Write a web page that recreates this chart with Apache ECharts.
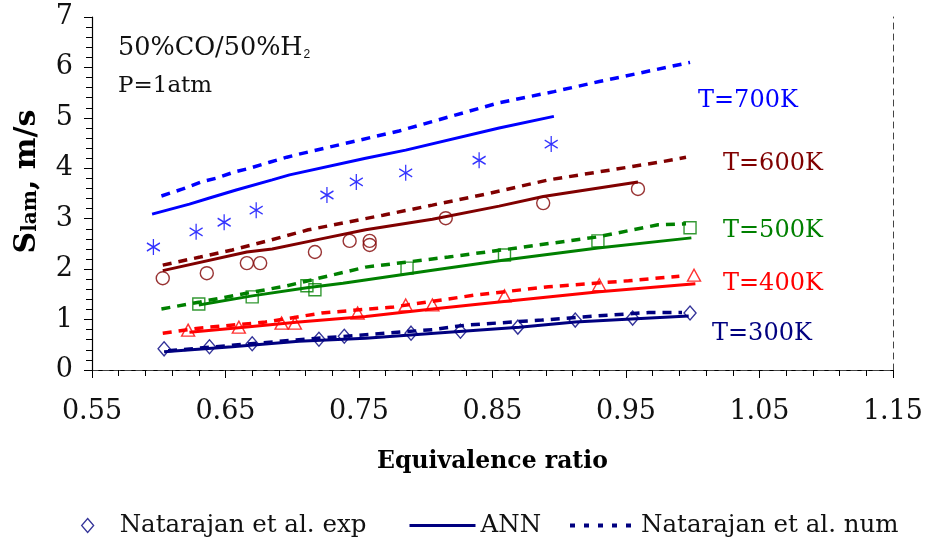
<!DOCTYPE html>
<html><head><meta charset="utf-8">
<script src="https://cdn.jsdelivr.net/npm/echarts@6/dist/echarts.min.js"></script>
<style>html,body{margin:0;padding:0;background:#fff}#c{width:926px;height:544px}</style>
</head><body><div id="c"></div>
<script>
// ---- data (equivalence ratio, laminar flame speed m/s) ----
const exp700X = [0.596,0.628,0.649,0.673,0.726,0.748,0.785,0.840,0.894];
const exp700Y = [2.44,2.74,2.93,3.17,3.47,3.73,3.91,4.16,4.48];
const ann700X = [0.595,0.623,0.638,0.658,0.685,0.698,0.755,0.785,0.855,0.896];
const ann700Y = [3.09,3.29,3.41,3.57,3.77,3.87,4.20,4.36,4.80,5.03];
const num700X = [0.602,0.618,0.632,0.644,0.657,0.668,0.683,0.696,0.705,0.780,0.855,0.896,0.930,0.998];
const num700Y = [3.45,3.59,3.73,3.81,3.93,4.00,4.12,4.22,4.28,4.74,5.30,5.52,5.72,6.10];

const exp600X = [0.603,0.636,0.666,0.676,0.717,0.743,0.758,0.758,0.815,0.888,0.959];
const exp600Y = [1.82,1.92,2.12,2.12,2.34,2.56,2.56,2.48,3.01,3.31,3.59];
const ann600X = [0.603,0.666,0.685,0.718,0.755,0.805,0.855,0.888,0.959];
const ann600Y = [1.97,2.34,2.40,2.58,2.78,2.99,3.25,3.44,3.73];
const num600X = [0.603,0.631,0.655,0.680,0.712,0.743,0.768,0.805,0.847,0.892,0.930,0.977,0.995];
const num600Y = [2.08,2.24,2.38,2.55,2.78,2.94,3.07,3.27,3.50,3.77,3.93,4.13,4.22];

const exp500X = [0.630,0.670,0.711,0.717,0.786,0.859,0.929,0.998];
const exp500Y = [1.31,1.45,1.67,1.59,2.02,2.28,2.56,2.82];
const ann500X = [0.630,0.670,0.711,0.738,0.805,0.859,0.929,0.999];
const ann500Y = [1.29,1.47,1.63,1.72,1.98,2.18,2.42,2.62];
const num500X = [0.602,0.631,0.696,0.755,0.817,0.857,0.929,0.974,0.995];
const num500Y = [1.21,1.35,1.67,2.04,2.24,2.38,2.64,2.88,2.90];

const exp400X = [0.622,0.660,0.692,0.702,0.749,0.785,0.805,0.859,0.930,1.001];
const exp400Y = [0.79,0.85,0.93,0.93,1.13,1.29,1.29,1.47,1.69,1.88];
const ann400X = [0.623,0.660,0.705,0.755,0.805,0.855,0.930,1.002];
const ann400Y = [0.75,0.84,0.95,1.06,1.21,1.35,1.55,1.71];
const num400X = [0.603,0.630,0.680,0.722,0.776,0.838,0.892,0.952,0.990];
const num400Y = [0.73,0.83,0.95,1.13,1.25,1.49,1.65,1.77,1.86];

const exp300X = [0.604,0.638,0.670,0.720,0.739,0.789,0.826,0.869,0.912,0.955,0.998];
const exp300Y = [0.42,0.46,0.52,0.61,0.67,0.73,0.77,0.85,0.99,1.03,1.13];
const ann300X = [0.604,0.655,0.705,0.755,0.817,0.870,0.912,0.954,0.997];
const ann300Y = [0.36,0.46,0.57,0.63,0.75,0.85,0.95,1.01,1.07];
const num300X = [0.607,0.655,0.705,0.755,0.805,0.830,0.887,0.927,0.967,0.992];
const num300Y = [0.38,0.49,0.60,0.70,0.80,0.89,0.99,1.07,1.14,1.14];

const tempLabels = ['T=700K','T=600K','T=500K','T=400K','T=300K'];
const legendNames = ['Natarajan et al. exp','ANN','Natarajan et al. num'];
const xAxisTitle = 'Equivalence ratio';

const pairs = (xs, ys) => xs.map((x, i) => [x, ys[i]]);
const SERIF = 'DejaVu Serif';
const COLORS = {700:'#0000ff',600:'#800000',500:'#008000',400:'#ff0000',300:'#000080'};
const STAR = 'path://M10,0L10,20M1.34,5L18.66,15M1.34,15L18.66,5';

function expSeries(name, data, color, symbol, size) {
  return {type:'scatter', name, data, symbol, symbolSize:size, z:5,
    itemStyle:{color:'rgba(0,0,0,0)', borderColor:color, borderWidth:1.4}};
}
function lineSeries(name, data, color, dashed) {
  return {type:'line', name, data, symbol:'none', smooth:false, z:3,
    lineStyle:{color, width: dashed ? 3.5 : 3, type: dashed ? [9,7] : 'solid'},
    itemStyle:{color}};
}

const series = [
  lineSeries('ann700', pairs(ann700X, ann700Y), COLORS[700], false),
  lineSeries('num700', pairs(num700X, num700Y), COLORS[700], true),
  expSeries('exp700', pairs(exp700X, exp700Y), COLORS[700], STAR, [13,16]),
  lineSeries('ann600', pairs(ann600X, ann600Y), COLORS[600], false),
  lineSeries('num600', pairs(num600X, num600Y), COLORS[600], true),
  expSeries('exp600', pairs(exp600X, exp600Y), COLORS[600], 'circle', 13),
  lineSeries('ann500', pairs(ann500X, ann500Y), COLORS[500], false),
  lineSeries('num500', pairs(num500X, num500Y), COLORS[500], true),
  expSeries('exp500', pairs(exp500X, exp500Y), COLORS[500], 'rect', 12),
  lineSeries('ann400', pairs(ann400X, ann400Y), COLORS[400], false),
  lineSeries('num400', pairs(num400X, num400Y), COLORS[400], true),
  expSeries('exp400', pairs(exp400X, exp400Y), COLORS[400], 'triangle', [13,12]),
  lineSeries(legendNames[1], pairs(ann300X, ann300Y), COLORS[300], false),
  lineSeries(legendNames[2], pairs(num300X, num300Y), COLORS[300], true),
  expSeries(legendNames[0], pairs(exp300X, exp300Y), COLORS[300], 'diamond', [12,14]),
];

const chart = echarts.init(document.getElementById('c'), null, {renderer:'canvas'});
const legendText = {fontFamily:SERIF, fontSize:24.5, color:'#111'};
const tempText = (txt, x, y, color) => ({type:'text', left:x, top:y, z:10,
  style:{text:txt, fill:color, font:'24px "DejaVu Serif"'}});

chart.setOption({
  animation:false,
  backgroundColor:'#fff',
  grid:{left:92, right:31, top:17, bottom:174, containLabel:false},
  xAxis:[{
    type:'value', min:0.55, max:1.15, interval:0.1,
    name:xAxisTitle, nameLocation:'middle', nameGap:80,
    nameTextStyle:{fontFamily:SERIF, fontWeight:'bold', fontSize:23.5, color:'#000'},
    axisLine:{show:true, onZero:false, lineStyle:{color:'#000', width:1.2}},
    axisTick:{show:true, length:8, lineStyle:{color:'#000'}},
    minorTick:{show:true, splitNumber:5, length:6, lineStyle:{color:'#000'}},
    splitLine:{show:false},
    axisLabel:{fontFamily:SERIF, fontSize:27, color:'#111', margin:28,
      formatter:v => v.toFixed(2)}
  },{
    type:'value', position:'top', min:0.55, max:1.15,
    axisLine:{show:true, lineStyle:{color:'#444', type:[6,5], width:1}},
    axisTick:{show:false}, axisLabel:{show:false}, splitLine:{show:false}
  }],
  yAxis:[{
    type:'value', min:0, max:7, interval:1,
    name:'{b|S}{s|lam}{b|, m/s}', nameLocation:'middle', nameGap:50,
    nameTextStyle:{padding:[0,0,0,24], rich:{
      b:{fontFamily:SERIF, fontWeight:'bold', fontSize:30, color:'#000'},
      s:{fontFamily:SERIF, fontWeight:'bold', fontSize:20, color:'#000', padding:[7,0,0,0]}
    }},
    axisLine:{show:true, onZero:false, lineStyle:{color:'#000', width:1.2}},
    axisTick:{show:true, length:8, lineStyle:{color:'#000'}},
    minorTick:{show:true, splitNumber:5, length:6, lineStyle:{color:'#000'}},
    splitLine:{show:false},
    axisLabel:{fontFamily:SERIF, fontSize:27, color:'#111', margin:19}
  },{
    type:'value', position:'right', min:0, max:7,
    axisLine:{show:true, lineStyle:{color:'#444', type:[6,5], width:1}},
    axisTick:{show:false}, axisLabel:{show:false}, splitLine:{show:false}
  }],
  legend:[
    {data:[{name:legendNames[0], icon:'diamond',
       itemStyle:{color:'rgba(0,0,0,0)', borderColor:COLORS[300], borderWidth:1.3}}],
     left:76, top:508, itemWidth:12, itemHeight:14, selectedMode:false,
     textStyle:Object.assign({padding:[0,0,0,21]}, legendText)},
    {data:[{name:legendNames[1], itemStyle:{opacity:0},
       lineStyle:{width:3}}],
     left:403, top:508, itemWidth:66, itemHeight:14, selectedMode:false,
     textStyle:legendText},
    {data:[{name:legendNames[2], itemStyle:{opacity:0},
       lineStyle:{width:4, type:[5,9]}}],
     left:563, top:508, itemWidth:66, itemHeight:14, selectedMode:false,
     textStyle:legendText}
  ],
  graphic:[
    {type:'text', left:118, top:35, z:10, style:{text:'50%CO/50%H', fill:'#111', font:'25.5px "DejaVu Serif"'}},
    {type:'text', left:0, top:49, z:10, style:{text:'2', fill:'#111', font:'17px "DejaVu Serif"'}, id:'sub2'},
    {type:'text', left:118, top:75, z:10, style:{text:'P=1atm', fill:'#111', font:'23px "DejaVu Serif"'}},
    tempText(tempLabels[0], 698, 89, COLORS[700]),
    tempText(tempLabels[1], 723, 152, COLORS[600]),
    tempText(tempLabels[2], 723, 219, COLORS[500]),
    tempText(tempLabels[3], 723, 272, COLORS[400]),
    tempText(tempLabels[4], 712, 322, COLORS[300])
  ],
  series
});
// place subscript right after the main text
const w = echarts.format.getTextRect ? echarts.format.getTextRect('50%CO/50%H', '25.5px "DejaVu Serif"').width : 193;
chart.setOption({graphic:[{id:'sub2', left:118 + w + 1}]});
</script></body></html>
